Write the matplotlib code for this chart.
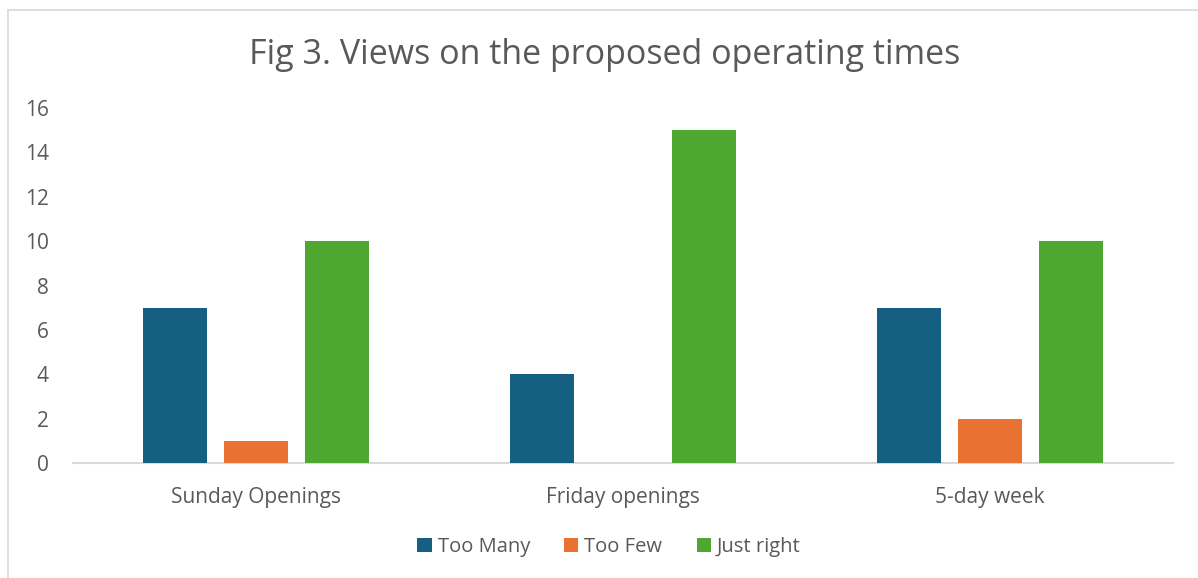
import matplotlib
matplotlib.use("Agg")
import matplotlib.pyplot as plt
import numpy as np
from matplotlib.patches import Patch
from matplotlib.lines import Line2D

categories = ["Sunday Openings", "Friday openings", "5-day week"]
series_names = ["Too Many", "Too Few", "Just right"]
too_many = [7, 4, 7]
too_few = [1, 0, 2]
just_right = [10, 15, 10]
yticks = [0, 2, 4, 6, 8, 10, 12, 14, 16]

colors = ["#156082", "#E97132", "#4EA72E"]
text_color = "#595959"
plt.rcParams['font.family'] = ['Open Sans', 'DejaVu Sans']

fig = plt.figure(figsize=(11.98, 5.78), dpi=100)
ax = fig.add_axes([73/1198, 1-463/578, 1100/1198, (463-108)/578])

x = np.arange(len(categories))
w = 0.1745
off = 0.221
for i, vals in enumerate([too_many, too_few, just_right]):
    ax.bar(x + (i-1)*off, vals, width=w, color=colors[i], label=series_names[i], zorder=3)

ax.set_xlim(-0.5, 2.5)
ax.set_ylim(0, 16)
ax.set_yticks(yticks)
ax.set_xticks(x)
ax.set_xticklabels(categories)
for s in ["top", "right", "left"]:
    ax.spines[s].set_visible(False)
ax.spines["bottom"].set_color("#D9D9D9")
ax.spines["bottom"].set_linewidth(1.5)
ax.tick_params(axis="both", length=0, colors=text_color, labelsize=15)
ax.tick_params(axis="x", pad=17)
ax.tick_params(axis="y", pad=17.5)

fig.text(605/1198, 1-55/578, "Fig 3. Views on the proposed operating times",
         ha="center", va="center", fontsize=24.5, color=text_color)

handles = [Patch(facecolor=c, label=n) for c, n in zip(colors, series_names)]
fig.legend(handles=handles, loc="center", bbox_to_anchor=(609/1198, 1-547/578),
           ncol=3, frameon=False, fontsize=14.5, labelcolor=text_color,
           handlelength=0.7, handleheight=0.7, handletextpad=0.3, columnspacing=1.7)

# chart border (left and top visible)
fig.add_artist(Line2D([8/1198, 8/1198], [0, 1-10/578], transform=fig.transFigure, color="#D9D9D9", lw=1.2))
fig.add_artist(Line2D([8/1198, 1], [1-10/578, 1-10/578], transform=fig.transFigure, color="#D9D9D9", lw=1.2))

fig.savefig("out.png", dpi=100)
